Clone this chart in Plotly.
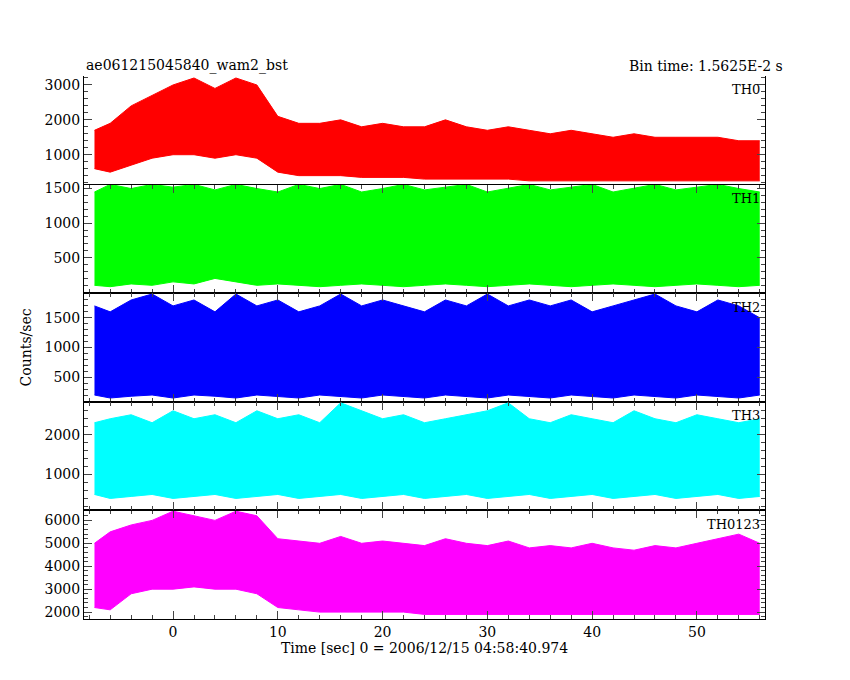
import plotly.graph_objects as go

time_s = [-7.5,-6,-4,-2,0,2,4,6,8,10,12,14,16,18,20,22,24,26,28,30,32,34,36,38,40,42,44,46,48,50,52,54,56]
th0_hi = [1700,1900,2400,2700,3000,3200,2900,3200,3000,2100,1900,1900,2000,1800,1900,1800,1800,2000,1800,1700,1800,1700,1600,1700,1600,1500,1600,1500,1500,1500,1500,1400,1400]
th0_lo = [600,500,700,900,1000,1000,900,1000,900,500,400,400,400,350,350,350,300,300,300,300,300,250,250,250,250,250,250,250,250,250,250,250,250]
th1_hi = [1450,1560,1500,1560,1520,1560,1480,1560,1500,1450,1560,1500,1560,1450,1500,1560,1480,1520,1560,1450,1500,1560,1480,1520,1560,1450,1500,1560,1480,1520,1560,1500,1450]
th1_lo = [100,80,120,100,150,120,200,150,100,120,100,80,100,120,100,80,100,120,100,80,100,120,100,80,100,120,100,80,100,120,100,80,100]
th2_hi = [1700,1600,1800,1900,1700,1800,1600,1900,1700,1800,1600,1700,1900,1700,1800,1700,1600,1800,1700,1900,1700,1800,1700,1800,1600,1700,1800,1900,1700,1600,1800,1700,1500]
th2_lo = [200,150,180,200,150,200,180,150,200,180,150,200,180,150,200,180,150,200,180,150,200,180,150,200,180,150,200,180,150,200,180,150,200]
th3_hi = [2300,2400,2500,2300,2600,2400,2500,2300,2600,2400,2500,2300,2800,2600,2400,2500,2300,2400,2500,2600,2800,2400,2300,2500,2400,2300,2600,2400,2300,2500,2400,2300,2400]
th3_lo = [500,400,450,500,400,450,500,400,450,500,400,450,500,400,450,500,400,450,500,400,450,500,400,450,500,400,450,500,400,450,500,400,450]
tsum_hi = [5000,5500,5800,6000,6400,6200,6000,6400,6200,5200,5100,5000,5300,5000,5100,5000,4900,5200,5000,4900,5100,4800,4900,4800,5000,4800,4700,4900,4800,5000,5200,5400,5000]
tsum_lo = [2200,2100,2800,3000,3000,3100,3000,3000,2800,2200,2100,2000,2000,2000,2000,2000,1900,1900,1900,1900,1900,1900,1900,1900,1900,1900,1900,1900,1900,1900,1900,1900,1900]

panels = [
    ("TH0", th0_hi, th0_lo, "#ff0000", [143, 3257], [1000, 2000, 3000]),
    ("TH1", th1_hi, th1_lo, "#00ff00", [-14, 1557], [500, 1000, 1500]),
    ("TH2", th2_hi, th2_lo, "#0000ff", [86, 1914], [500, 1000, 1500]),
    ("TH3", th3_hi, th3_lo, "#00ffff", [100, 2825], [1000, 2000]),
    ("TH0123", tsum_hi, tsum_lo, "#ff00ff", [1700, 6435], [2000, 3000, 4000, 5000, 6000]),
]

W, H = 850, 680
top, bot = 68, 611
ph = (bot - top) / 5
font = dict(family="DejaVu Serif", size=14, color="black")
fig = go.Figure()
lay = {}
for i, (name, hi, lo, col, yr, ticks) in enumerate(panels):
    n = i + 1
    ya = "y" if n == 1 else f"y{n}"
    xa = "x" if n == 5 else f"x{n}"
    fig.add_trace(go.Scatter(x=time_s, y=lo, xaxis=xa, yaxis=ya,
                             mode="lines", line=dict(color=col, width=1), showlegend=False))
    fig.add_trace(go.Scatter(x=time_s, y=hi, xaxis=xa, yaxis=ya,
                             mode="lines", line=dict(color=col, width=1), fill="tonexty",
                             fillcolor=col, showlegend=False))
    y0 = 1 - (ph * (i + 1)) / (bot - top)
    y1 = 1 - (ph * i) / (bot - top)
    yk = "yaxis" if n == 1 else f"yaxis{n}"
    xk = "xaxis" if n == 5 else f"xaxis{n}"
    lay[yk] = dict(domain=[y0, y1], range=yr, tickvals=ticks, ticks="inside", ticklen=8,
                   mirror="ticks", showline=True, linecolor="black", linewidth=1,
                   showgrid=False, zeroline=False, tickfont=font, anchor=xa, automargin=False,
                   minor=dict(ticks="inside", ticklen=4, dtick=(ticks[1]-ticks[0])/5))
    lay[xk] = dict(range=[-8.5, 56.5], dtick=10, ticks="inside", ticklen=8, mirror="ticks",
                   showline=True, linecolor="black", linewidth=1, showgrid=False, zeroline=False,
                   showticklabels=(n == 5), tickfont=font, anchor=ya, automargin=False,
                   minor=dict(ticks="inside", ticklen=4, dtick=2))
    if n != 5:
        lay[xk]["matches"] = "x"
    fig.add_annotation(text=name, xref="paper", yref="paper", x=0.995, y=y1 - 0.008,
                       xanchor="right", yanchor="top", showarrow=False,
                       font=dict(family="DejaVu Serif", size=13, color="black"))
lay["xaxis"]["title"] = dict(text="Time [sec] 0 = 2006/12/15 04:58:40.974", font=font, standoff=4)
fig.update_layout(**lay)
fig.add_annotation(text="Counts/sec", xref="paper", yref="paper", x=-0.1, y=0.5, textangle=-90,
                   showarrow=False, font=font)
fig.add_annotation(text="ae061215045840_wam2_bst", xref="paper", yref="paper", x=0, y=1.0,
                   xanchor="left", yanchor="bottom", showarrow=False, font=font)
fig.add_annotation(text="Bin time: 1.5625E-2 s", xref="paper", yref="paper", x=1.03, y=1.0,
                   xanchor="right", yanchor="bottom", showarrow=False, font=font)
fig.update_layout(width=W, height=H, margin=dict(l=76, r=93, t=top, b=H - bot),
                  plot_bgcolor="white", paper_bgcolor="white")
fig.write_html("out.html")
